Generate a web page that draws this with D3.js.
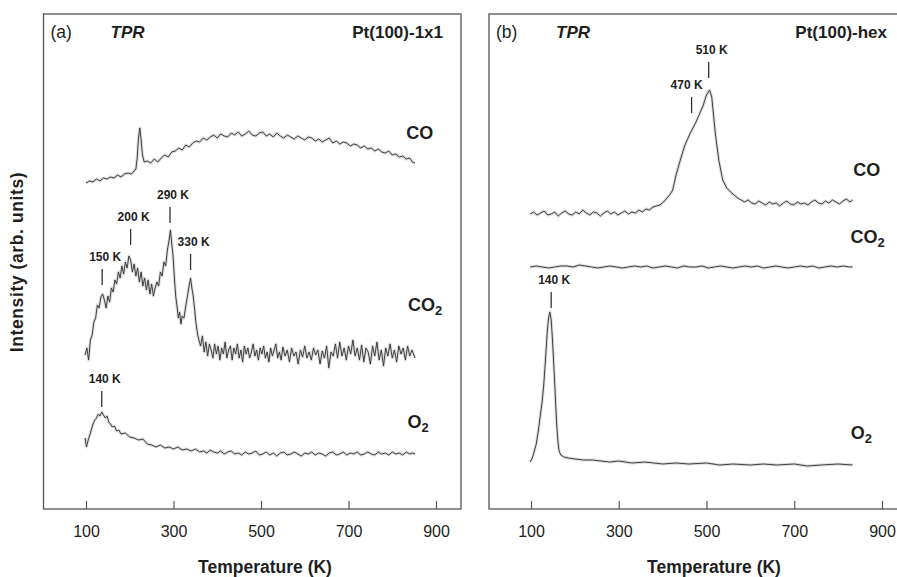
<!DOCTYPE html>
<html>
<head>
<meta charset="utf-8">
<script src="https://cdn.jsdelivr.net/npm/d3@7"></script>
<style>
  body { margin: 0; background: #fff; }
  text { font-family: "Liberation Sans", Arial, Helvetica, sans-serif; fill: #1e1e1e; }
</style>
</head>
<body>
<svg id="chart" width="897" height="577"></svg>
<script>
// temperature ticks, same on both panels
const tempTicks = [100, 300, 500, 700, 900]

// panel (a) Pt(100)-1x1 : [temperature K, intensity (arb. units, traces offset)]
const coA = [[100,326],[108,328],[116,327],[124,330],[132,328],[140,331],[148,330],[156,332],[164,331],[172,334],[180,332],[188,335],[196,336],[204,335],[210,338],[214,340],[217,351],[220,371],[223,381],[226,369],[229,354],[233,347],[240,348],[248,346],[256,350],[264,347],[272,351],[280,354],[288,352],[296,357],[304,358],[312,361],[320,359],[328,364],[336,362],[344,366],[352,368],[360,367],[368,371],[376,369],[384,372],[392,374],[400,371],[408,375],[416,373],[424,372],[432,376],[440,374],[448,377],[456,373],[464,375],[472,378],[480,374],[488,373],[496,376],[504,377],[512,373],[520,375],[528,372],[536,376],[544,373],[552,371],[560,374],[568,372],[576,370],[584,373],[592,371],[600,369],[608,372],[616,371],[624,368],[632,370],[640,367],[648,369],[656,371],[664,366],[672,368],[680,365],[688,367],[696,366],[704,363],[712,365],[720,364],[728,361],[736,363],[744,360],[752,361],[760,358],[768,360],[776,357],[784,356],[792,358],[800,354],[808,355],[816,352],[824,353],[832,350],[840,351],[846,347],[852,346]]
const co2A = [[98,154],[102,161],[106,149],[110,169],[114,174],[118,187],[122,191],[126,204],[130,201],[134,212],[138,215],[142,209],[146,201],[150,213],[154,207],[158,221],[162,217],[166,229],[170,225],[174,237],[178,231],[182,243],[186,235],[190,247],[194,241],[198,253],[202,249],[206,237],[210,245],[214,233],[218,241],[222,227],[226,237],[230,223],[234,231],[238,219],[242,229],[246,215],[250,225],[254,213],[258,221],[262,227],[266,223],[270,237],[274,233],[278,247],[282,243],[286,259],[290,269],[293,279],[296,265],[299,253],[302,231],[305,213],[308,203],[311,191],[314,197],[317,185],[320,193],[324,191],[328,203],[332,213],[336,224],[339,231],[342,221],[345,213],[348,201],[351,187],[355,175],[358,169],[362,163],[366,173],[370,157],[374,167],[378,153],[382,165],[386,159],[390,151],[394,165],[398,155],[402,163],[406,149],[410,161],[414,155],[418,167],[422,151],[426,159],[430,163],[434,149],[438,161],[442,155],[446,165],[450,151],[454,159],[458,147],[462,163],[466,155],[470,161],[474,151],[478,157],[482,165],[486,153],[490,159],[494,149],[498,161],[502,155],[506,163],[510,151],[514,157],[518,147],[522,161],[526,153],[530,159],[534,165],[538,151],[542,157],[546,149],[550,162],[555,153],[560,159],[565,147],[570,161],[575,153],[580,157],[585,145],[590,159],[595,152],[600,163],[605,151],[610,157],[615,149],[620,161],[625,154],[630,159],[635,145],[640,158],[645,151],[650,163],[655,141],[660,157],[665,153],[670,165],[675,151],[680,167],[685,153],[690,161],[695,149],[700,163],[705,155],[710,169],[715,153],[720,161],[725,149],[730,164],[735,147],[740,161],[745,157],[750,145],[755,163],[760,153],[765,167],[770,149],[775,159],[780,143],[785,161],[790,153],[795,165],[800,151],[805,159],[810,147],[815,163],[820,155],[825,161],[830,149],[835,163],[840,153],[845,159],[852,151]]
const o2A = [[98,71],[101,62],[105,69],[108,73],[112,79],[116,85],[120,89],[124,91],[128,95],[132,93],[136,97],[140,94],[144,91],[148,93],[152,87],[156,85],[160,82],[165,83],[170,78],[175,79],[180,75],[190,76],[200,72],[210,71],[220,69],[230,70],[240,65],[250,64],[260,62],[270,64],[280,61],[290,62],[300,60],[310,62],[320,59],[330,60],[340,58],[350,60],[360,57],[368,58],[376,56],[384,59],[392,57],[400,56],[408,58],[416,55],[424,57],[432,58],[440,55],[448,56],[456,54],[464,57],[472,55],[480,56],[488,58],[496,54],[504,55],[512,57],[520,54],[528,56],[536,53],[544,56],[552,57],[560,54],[568,55],[576,57],[584,55],[592,53],[600,56],[608,55],[616,57],[624,54],[632,56],[640,55],[648,53],[656,56],[664,57],[672,54],[680,55],[688,57],[696,54],[704,56],[712,55],[720,57],[728,54],[736,55],[744,57],[752,55],[760,54],[768,57],[776,55],[784,56],[792,54],[800,57],[808,55],[816,56],[824,54],[832,57],[840,55],[846,56],[852,55]]

// panel (b) Pt(100)-hex
const coB = [[98,295],[106,297],[114,294],[122,296],[130,298],[138,294],[146,295],[154,297],[162,293],[170,296],[178,298],[186,295],[194,294],[202,297],[210,295],[218,299],[226,296],[234,294],[242,297],[250,296],[258,293],[266,296],[274,298],[282,295],[290,297],[298,294],[306,296],[314,298],[322,295],[330,297],[338,296],[346,299],[354,297],[362,300],[370,299],[378,302],[386,303],[394,304],[402,307],[410,311],[416,314],[423,319],[430,333],[439,347],[450,363],[462,375],[475,386],[484,395],[492,403],[500,414],[507,419],[512,412],[516,394],[520,376],[528,349],[537,329],[546,321],[555,317],[563,314],[571,311],[579,309],[587,307],[595,309],[603,306],[611,305],[619,308],[627,306],[635,304],[643,307],[651,305],[659,306],[667,303],[675,306],[683,308],[691,305],[699,304],[707,307],[715,305],[723,306],[731,304],[739,307],[747,309],[755,306],[763,305],[771,308],[779,306],[787,309],[795,307],[803,305],[811,308],[819,310],[827,307],[833,309]]
const co2B = [[98,242],[112,243],[126,242],[140,241],[154,242],[168,243],[182,243],[196,242],[210,244],[224,243],[238,242],[252,241],[266,242],[280,243],[294,242],[308,241],[322,242],[336,243],[350,242],[364,243],[378,241],[392,242],[406,243],[420,242],[434,241],[448,243],[462,242],[476,242],[490,243],[504,241],[518,242],[532,243],[546,242],[560,241],[574,242],[588,243],[602,242],[616,243],[630,241],[644,242],[658,243],[672,242],[686,241],[700,242],[714,243],[728,242],[742,243],[756,241],[770,242],[784,243],[798,242],[812,243],[826,242],[833,242]]
const o2B = [[98,47],[103,51],[107,57],[112,65],[117,79],[121,93],[125,106],[129,124],[133,149],[137,177],[140,191],[143,197],[146,189],[149,169],[152,144],[155,117],[158,89],[161,69],[164,58],[168,54],[175,52],[185,51],[200,50],[220,49],[240,49],[260,48],[280,47],[300,48],[330,46],[360,47],[400,45],[430,46],[460,45],[500,46],[530,44],[560,45],[600,44],[630,45],[660,44],[700,45],[730,43],[760,44],[800,45],[833,44]]

// peak marks: label, temperature of the mark, intensity at the foot of the mark
const peaksA = [["150 K", 137, 224], ["200 K", 202, 264], ["290 K", 292, 286], ["330 K", 339, 239], ["140 K", 136, 102]]
const peaksB = [["510 K", 505, 431], ["470 K", 466, 396], ["140 K", 146, 201]]

// trace names: [formula, subscript, temperature, intensity]
const namesA = [["CO", "", 863, 376], ["CO", "2", 875, 204], ["O", "2", 859, 87]]
const namesB = [["CO", "", 865, 339], ["CO", "2", 867, 272], ["O", "2", 853, 76]]

const svg = d3.select('#chart')

function drawPanel(p) {
    const x = d3.scaleLinear().domain([100, 900]).range([p.x0, p.x1])
    const y = d3.scaleLinear().domain([0, 496]).range([509, 13])
    const g = svg.append('g')

    g.append('rect')
        .attr('x', p.left).attr('y', 14)
        .attr('width', p.right - p.left).attr('height', 495)
        .attr('fill', 'none').attr('stroke', '#555').attr('stroke-width', 1.3)

    const axis = d3.axisBottom(x).tickValues(tempTicks)
        .tickSizeInner(-8).tickSizeOuter(0).tickPadding(17)
    const ax = g.append('g').attr('transform', 'translate(0,509)').call(axis)
    ax.select('.domain').remove()
    ax.selectAll('line').attr('stroke', '#555').attr('stroke-width', 1.2)
    ax.selectAll('text').style('font-size', '16px').style('fill', '#222')

    g.append('text')
        .attr('x', p.titleX).attr('y', 573)
        .attr('text-anchor', 'middle')
        .style('font-size', '17.5px').style('font-weight', 'bold')
        .text('Temperature (K)')

    // header
    g.append('text').attr('x', p.left + 7).attr('y', 38)
        .style('font-size', '17.5px').text(p.tag)
    g.append('text').attr('x', p.left + 67).attr('y', 38)
        .style('font-size', '17px').style('font-weight', 'bold').style('font-style', 'italic')
        .text('TPR')
    g.append('text').attr('x', p.surfX).attr('y', 38).attr('text-anchor', 'end')
        .style('font-size', '17px').style('font-weight', 'bold')
        .text(p.surface)

    const line = d3.line().x(d => x(d[0])).y(d => y(d[1]))
    p.traces.forEach(tr => {
        g.append('path').datum(tr)
            .attr('d', line).attr('fill', 'none')
            .attr('stroke', '#999').attr('stroke-width', 3).attr('stroke-opacity', 0.35)
            .attr('stroke-linejoin', 'round')
        g.append('path').datum(tr)
            .attr('d', line).attr('fill', 'none')
            .attr('stroke', '#383838').attr('stroke-width', 0.95)
            .attr('stroke-linejoin', 'round')
    })

    const marks = g.selectAll('.peak').data(p.peaks).enter().append('g')
    marks.append('line')
        .attr('x1', d => x(d[1])).attr('x2', d => x(d[1]))
        .attr('y1', d => y(d[2])).attr('y2', d => y(d[2]) - 16)
        .attr('stroke', '#333').attr('stroke-width', 1.3)
    marks.append('text')
        .attr('x', d => x(d[1]) + (d[0] === '470 K' ? -5 : 3))
        .attr('y', d => y(d[2]) - 24)
        .attr('text-anchor', 'middle')
        .style('font-size', '12px').style('font-weight', 'bold')
        .text(d => d[0])

    const names = g.selectAll('.name').data(p.names).enter().append('text')
        .attr('x', d => x(d[2])).attr('y', d => y(d[3]) + 6)
        .attr('text-anchor', 'middle')
        .style('font-size', '18px').style('font-weight', 'bold')
        .text(d => d[0])
    names.filter(d => d[1]).append('tspan')
        .attr('dy', 3.5).style('font-size', '13px')
        .text(d => d[1])
}

drawPanel({
    x0: 86, x1: 436, left: 43.5, right: 461, titleX: 265,
    tag: '(a)', surface: 'Pt(100)-1x1', surfX: 443,
    traces: [coA, co2A, o2A], peaks: peaksA, names: namesA
})
drawPanel({
    x0: 531, x1: 882, left: 489, right: 900, titleX: 714,
    tag: '(b)', surface: 'Pt(100)-hex', surfX: 887,
    traces: [coB, co2B, o2B], peaks: peaksB, names: namesB
})

svg.append('text')
    .attr('transform', 'translate(23,262) rotate(-90)')
    .attr('text-anchor', 'middle')
    .style('font-size', '17.5px').style('font-weight', 'bold').style('letter-spacing', '0.6px')
    .text('Intensity (arb. units)')
</script>
</body>
</html>
